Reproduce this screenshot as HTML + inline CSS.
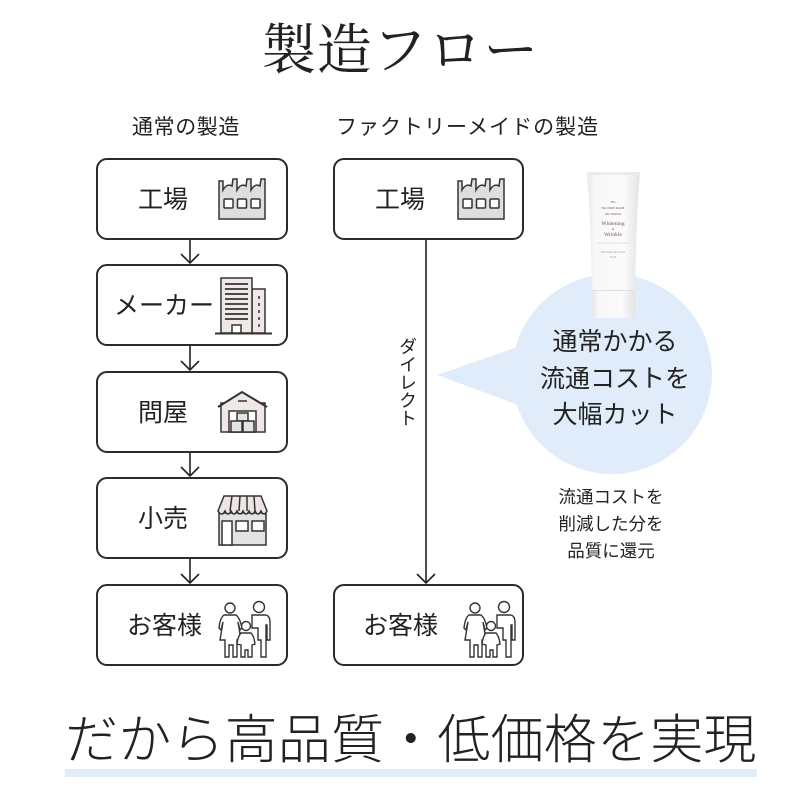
<!DOCTYPE html>
<html><head><meta charset="utf-8">
<style>
html,body{margin:0;padding:0;background:#fff;}
body{width:800px;height:800px;position:relative;overflow:hidden;font-family:"Liberation Sans","Noto Sans CJK JP",sans-serif;color:#222;}
.t{position:absolute;white-space:nowrap;line-height:1;}
.lab{font-size:25px;}
</style></head><body>
<svg width="800" height="800" style="position:absolute;left:0;top:0">
  <!-- bubble -->
  <circle cx="612" cy="374" r="100" fill="#e0ecfa"/>
  <polygon points="437,375 532,342 532,410" fill="#e0ecfa"/>
  <!-- bottom underline -->
  <rect x="65" y="769" width="692" height="8" fill="#e2ecf8"/>

  <g fill="#fff" stroke="#2b2b2b" stroke-width="2">
    <rect x="97" y="159" width="190" height="80" rx="10"/>
    <rect x="97" y="265" width="190" height="80" rx="10"/>
    <rect x="97" y="372" width="190" height="80" rx="10"/>
    <rect x="97" y="478" width="190" height="80" rx="10"/>
    <rect x="97" y="585" width="190" height="80" rx="10"/>
    <rect x="334" y="159" width="189" height="80" rx="10"/>
    <rect x="334" y="585" width="189" height="80" rx="10"/>
  </g>
  <g fill="none" stroke="#222" stroke-width="1.6">
    <line x1="190" y1="240" x2="190" y2="263"/><polyline points="181,254 190,263 199,254"/>
    <line x1="190" y1="346" x2="190" y2="370"/><polyline points="181,361 190,370 199,361"/>
    <line x1="190" y1="453" x2="190" y2="476"/><polyline points="181,467 190,476 199,467"/>
    <line x1="190" y1="559" x2="190" y2="583"/><polyline points="181,574 190,583 199,574"/>
    <line x1="426" y1="240" x2="426" y2="583"/><polyline points="417,574 426,583 435,574"/>
  </g>

  <!-- factory icons -->
  <g transform="translate(218,177)" stroke="#333" stroke-width="1.5">
    <path d="M1,42 L1,4 L5,4 L5,13 Q9,6 14,9 L15,2 L19,2 L19,13 Q23,6 28,9 L29,2 L33,2 L33,13 Q37,6 42,9 L43,2 L47,2 L47,42 Z" fill="#dedede"/>
    <rect x="6" y="22" width="9" height="9" rx="1" fill="#fff"/>
    <rect x="19.5" y="22" width="9" height="9" rx="1" fill="#fff"/>
    <rect x="33" y="22" width="9" height="9" rx="1" fill="#fff"/>
  </g>
  <g transform="translate(457,177)" stroke="#333" stroke-width="1.5">
    <path d="M1,42 L1,4 L5,4 L5,13 Q9,6 14,9 L15,2 L19,2 L19,13 Q23,6 28,9 L29,2 L33,2 L33,13 Q37,6 42,9 L43,2 L47,2 L47,42 Z" fill="#dedede"/>
    <rect x="6" y="22" width="9" height="9" rx="1" fill="#fff"/>
    <rect x="19.5" y="22" width="9" height="9" rx="1" fill="#fff"/>
    <rect x="33" y="22" width="9" height="9" rx="1" fill="#fff"/>
  </g>

  <!-- building icon -->
  <g stroke="#333" stroke-width="1.5">
    <rect x="252" y="289" width="13" height="44" fill="#efe8e7"/>
    <rect x="221" y="278" width="31" height="55" fill="#efe8e7"/>
    <g stroke-width="1.8">
      <line x1="225" y1="284" x2="248" y2="284"/>
      <line x1="225" y1="289" x2="248" y2="289"/>
      <line x1="225" y1="294" x2="248" y2="294"/>
      <line x1="225" y1="299" x2="248" y2="299"/>
      <line x1="225" y1="304" x2="248" y2="304"/>
      <line x1="225" y1="309" x2="248" y2="309"/>
      <line x1="225" y1="314" x2="248" y2="314"/>
      <line x1="225" y1="319" x2="248" y2="319"/>
    </g>
    <line x1="259" y1="296" x2="259" y2="327" stroke-dasharray="3,4"/>
    <rect x="232" y="325" width="9" height="8" fill="#fff"/>
    <line x1="215" y1="333.5" x2="272" y2="333.5" stroke-width="2"/>
  </g>

  <!-- warehouse -->
  <g stroke="#333" stroke-width="1.5">
    <rect x="221" y="403" width="44" height="29" fill="#efe8e7"/>
    <path d="M221,405 L242,393 L265,405" fill="#efe8e7" stroke="none"/>
    <polyline points="218,407 242,392 267,407" fill="none" stroke-width="2"/>
    <line x1="238" y1="401" x2="247" y2="401"/>
    <rect x="229" y="411" width="27" height="21" fill="#fff"/>
    <rect x="237" y="413" width="11" height="8" fill="#e4e4e4"/>
    <rect x="231" y="421" width="11" height="11" fill="#e4e4e4"/>
    <rect x="243" y="421" width="11" height="11" fill="#e4e4e4"/>
  </g>

  <!-- shop -->
  <g stroke="#333" stroke-width="1.5">
    <rect x="219" y="513" width="47" height="32" fill="#e3e3e3"/>
    <path d="M224,496 L261,496 L267,511 Q264,517 261,511 Q258,517 255,511 Q252,517 249,511 Q246,517 243,511 Q240,517 237,511 Q234,517 231,511 Q228,517 225,511 Q222,517 218,511 Z" fill="#ece5e3"/>
    <line x1="232" y1="496" x2="230" y2="511"/>
    <line x1="240" y1="496" x2="239" y2="511"/>
    <line x1="247" y1="496" x2="247" y2="511"/>
    <line x1="254" y1="496" x2="255" y2="511"/>
    <rect x="222" y="521" width="10" height="24" fill="#fff"/>
    <rect x="236" y="521" width="12" height="10" fill="#fff"/>
    <rect x="252" y="521" width="12" height="10" fill="#fff"/>
  </g>

  <!-- family icons -->
  <g fill="#fff" stroke="#333" stroke-width="1.4">
    <circle cx="230" cy="608" r="5"/>
    <circle cx="259" cy="607" r="5.5"/>
    <path d="M252,615 L266,615 Q270,616 270,622 L270,640 L267,640 L267,625 L266,625 L266,657 L261,657 L261,640 L258,640 L258,628 L252,628 Z"/>
    <path d="M224,615 L236,615 Q240,618 242,628 L240,630 L238,622 L241,640 L237,640 L237,657 L233,657 L233,645 L229,645 L229,657 L225,657 L225,640 L220,640 L223,622 L221,630 L219,628 Q220,618 224,615 Z"/>
    <circle cx="246" cy="626" r="4.5"/>
    <path d="M241,633 L251,633 Q254,636 255,644 L252,645 L252,657 L248,657 L248,650 L245,650 L245,657 L241,657 L241,645 L237,644 Q238,636 241,633 Z"/>
  </g>
  <g transform="translate(245,0)" fill="#fff" stroke="#333" stroke-width="1.4">
    <circle cx="230" cy="608" r="5"/>
    <circle cx="259" cy="607" r="5.5"/>
    <path d="M252,615 L266,615 Q270,616 270,622 L270,640 L267,640 L267,625 L266,625 L266,657 L261,657 L261,640 L258,640 L258,628 L252,628 Z"/>
    <path d="M224,615 L236,615 Q240,618 242,628 L240,630 L238,622 L241,640 L237,640 L237,657 L233,657 L233,645 L229,645 L229,657 L225,657 L225,640 L220,640 L223,622 L221,630 L219,628 Q220,618 224,615 Z"/>
    <circle cx="246" cy="626" r="4.5"/>
    <path d="M241,633 L251,633 Q254,636 255,644 L252,645 L252,657 L248,657 L248,650 L245,650 L245,657 L241,657 L241,645 L237,644 Q238,636 241,633 Z"/>
  </g>

  <!-- product tube -->
  <defs>
    <linearGradient id="tg" x1="0" x2="1" y1="0" y2="0">
      <stop offset="0" stop-color="#e6e6e6"/>
      <stop offset="0.15" stop-color="#f8f8f8"/>
      <stop offset="0.7" stop-color="#fbfbfb"/>
      <stop offset="1" stop-color="#e2e2e2"/>
    </linearGradient>
  </defs>
  <path d="M587,173 L640,173 L638,200 Q636,240 635,290 L592,290 Q591,240 589,200 Z" fill="url(#tg)"/>
  <rect x="587" y="172" width="53" height="3" fill="#ececec"/>
  <rect x="592" y="290" width="43" height="28" fill="url(#tg)"/>
  <line x1="592" y1="290.5" x2="635" y2="290.5" stroke="#e0e0e0" stroke-width="1"/>
  <g fill="#7a4a4a" font-family="Liberation Serif, serif" text-anchor="middle">
    <text x="613" y="203" font-size="3">TFC</text>
    <text x="613" y="209" font-size="3">FACTORY MADE</text>
    <text x="613" y="215" font-size="3">OIL SERUM</text>
    <text x="613" y="225" font-size="5.5">Whitening</text>
    <text x="613" y="230" font-size="3">&amp;</text>
    <text x="613" y="236" font-size="5.5">Wrinkle</text>
    <line x1="597" y1="243" x2="630" y2="243" stroke="#ccc" stroke-width="0.5"/>
    <text x="613" y="253" font-size="2.8" fill="#999">Medicated Oil Serum</text>
    <text x="613" y="258" font-size="2.8" fill="#999">30 ml</text>
  </g>
</svg>

<div class="t" style="left:0;width:800px;text-align:center;top:23px;font-size:55px;letter-spacing:0.5px;font-family:'Liberation Serif','Noto Serif CJK SC',serif;">製造フロー</div>

<div class="t" style="left:132px;top:117px;font-size:21px;letter-spacing:0.6px;">通常の製造</div>
<div class="t" style="left:336px;top:117px;font-size:21px;letter-spacing:1px;">ファクトリーメイドの製造</div>

<div class="t lab" style="left:138px;top:188px;">工場</div>
<div class="t lab" style="left:114px;top:294px;">メーカー</div>
<div class="t lab" style="left:138px;top:401px;">問屋</div>
<div class="t lab" style="left:138px;top:507px;">小売</div>
<div class="t lab" style="left:127px;top:614px;">お客様</div>
<div class="t lab" style="left:375px;top:188px;">工場</div>
<div class="t lab" style="left:363px;top:614px;">お客様</div>

<div class="t" style="left:398px;top:337px;font-size:18px;writing-mode:vertical-rl;">ダイレクト</div>

<div class="t" style="left:515px;width:200px;text-align:center;top:324px;font-size:25px;line-height:36.5px;">通常かかる<br>流通コストを<br>大幅カット</div>

<div class="t" style="left:511px;width:200px;text-align:center;top:484px;font-size:17.5px;line-height:27px;">流通コストを<br>削減した分を<br>品質に還元</div>

<div class="t" style="left:65px;top:714px;font-size:53px;letter-spacing:0.2px;font-weight:300;">だから高品質・低価格を実現</div>
</body></html>
